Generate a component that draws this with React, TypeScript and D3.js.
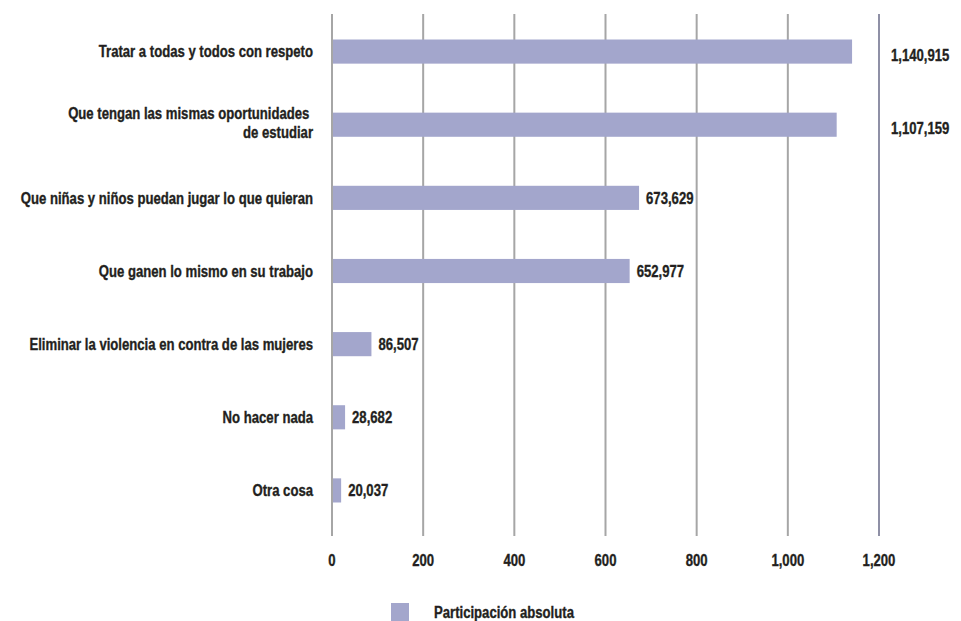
import React, { useEffect, useRef } from 'react';
import * as d3 from 'd3';

const categories = [
  'Tratar a todas y todos con respeto',
  'Que tengan las mismas oportunidades |de estudiar',
  'Que niñas y niños puedan jugar lo que quieran',
  'Que ganen lo mismo en su trabajo',
  'Eliminar la violencia en contra de las mujeres',
  'No hacer nada',
  'Otra cosa'
];
const values = [1140915, 1107159, 673629, 652977, 86507, 28682, 20037];
const xTicks = [0, 200000, 400000, 600000, 800000, 1000000, 1200000];
const seriesName = 'Participación absoluta';

const WIDTH = 961;
const HEIGHT = 621;
const FONT = '"Liberation Sans", Arial, sans-serif';
const SQUEEZE = 0.82; // fake a bold condensed face
const BAR = '#a3a6cc';
const TEXT = '#231f20';

type G = d3.Selection<SVGGElement, unknown, null, undefined>;

// condensed text: squeeze horizontally around its anchor point
const label = (parent: G, x: number, y: number, str: string, anchor = 'start') => {
  parent.append('g')
    .attr('transform', `translate(${x},${y}) scale(${SQUEEZE},1)`)
    .append('text')
    .attr('dy', '0.36em')
    .attr('text-anchor', anchor)
    .style('font-family', FONT)
    .style('font-weight', 'bold')
    .style('font-size', '16px')
    .style('fill', TEXT)
    .style('stroke', TEXT)
    .style('stroke-width', 0.35)
    .style('white-space', 'pre')
    .text(str);
};

const App: React.FC = () => {
  const svgRef = useRef<SVGSVGElement>(null);

  useEffect(() => {
    if (!svgRef.current) return;
    const svg = d3.select(svgRef.current);
    svg.selectAll('*').remove();

    const x = d3.scaleLinear().domain([0, 1200000]).range([332, 879]);
    const y = d3.scaleBand<string>()
      .domain(categories)
      .range([15, 527])
      .paddingInner(0.67)
      .paddingOuter(0.335);

    const fmt = d3.format(',');

    // vertical gridlines
    svg.append('g')
      .selectAll('line')
      .data(xTicks)
      .enter()
      .append('line')
      .attr('x1', d => x(d))
      .attr('x2', d => x(d))
      .attr('y1', 14)
      .attr('y2', 536)
      .style('stroke', (d, i) => (i === xTicks.length - 1 ? '#8f90a6' : '#a6a6a6'))
      .style('stroke-width', 2);

    // tick labels
    const tickG = svg.append('g') as unknown as G;
    xTicks.forEach(t => label(tickG, x(t), 560, fmt(t / 1000), 'middle'));

    // bars
    svg.append('g')
      .selectAll('rect')
      .data(values)
      .enter()
      .append('rect')
      .attr('x', x(0) + 1)
      .attr('y', (d, i) => y(categories[i]) as number)
      .attr('width', d => x(d) - x(0) - 1)
      .attr('height', y.bandwidth())
      .style('fill', BAR);

    // category labels
    const catG = svg.append('g') as unknown as G;
    categories.forEach(c => {
      const lines = c.split('|');
      const cy = (y(c) as number) + y.bandwidth() / 2;
      const lh = 19;
      const start = cy - ((lines.length - 1) * lh) / 2 - (lines.length > 1 ? 2 : 0);
      lines.forEach((ln, j) => label(catG, 313, start + j * lh, ln, 'end'));
    });

    // value labels (the two longest sit past the last gridline)
    const valG = svg.append('g') as unknown as G;
    values.forEach((v, i) => {
      const cy = (y(categories[i]) as number) + y.bandwidth() / 2;
      const outside = v > 1000000;
      label(valG, outside ? x(1200000) + 12 : x(v) + 7, cy + (outside ? 4 : 0), fmt(v));
    });

    // legend
    const legend = svg.append('g') as unknown as G;
    legend.append('rect')
      .attr('x', 391)
      .attr('y', 603)
      .attr('width', 18)
      .attr('height', 18)
      .style('fill', BAR);
    label(legend, 434, 612, seriesName);
  }, []);

  return (
    <svg
      ref={svgRef}
      width={WIDTH}
      height={HEIGHT}
      style={{ position: 'absolute', left: 0, top: 0, background: '#fff' }}
    />
  );
};

export default App;
